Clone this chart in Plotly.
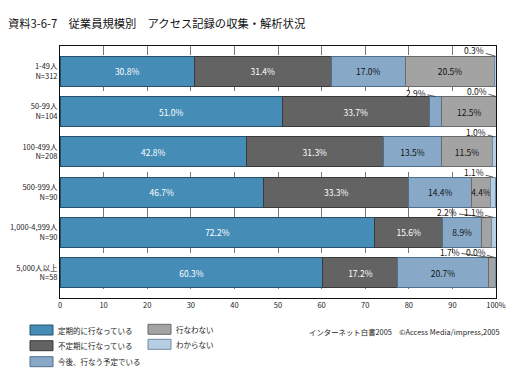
import plotly.graph_objects as go

# ---------------- data ----------------
title_text = "資料3-6-7　従業員規模別　アクセス記録の収集・解析状況"
credit_text = "インターネット白書2005　©Access Media/impress,2005"
categories = ["1-49人<br>N=312", "50-99人<br>N=104", "100-499人<br>N=208",
              "500-999人<br>N=90", "1,000-4,999人<br>N=90", "5,000人以上<br>N=58"]
series_names = ["定期的に行なっている", "不定期に行なっている", "今後、行なう予定でいる",
                "行なわない", "わからない"]
regular = [30.8, 51.0, 42.8, 46.7, 72.2, 60.3]
irregular = [31.4, 33.7, 31.3, 33.3, 15.6, 17.2]
planned = [17.0, 2.9, 13.5, 14.4, 8.9, 20.7]
not_doing = [20.5, 12.5, 11.5, 4.4, 2.2, 1.7]
unknown = [0.3, 0.0, 1.0, 1.1, 1.1, 0.0]
x_tick_values = [0, 10, 20, 30, 40, 50, 60, 70, 80, 90, 100]
x_tick_labels = ["0", "10", "20", "30", "40", "50", "60", "70", "80", "90", "100%"]

series = [regular, irregular, planned, not_doing, unknown]

# ---------------- style ----------------
FONT = "Noto Sans CJK JP"
fills = ["#458cb7", "#636363", "#87a9c7", "#a3a3a3", "#b7cde2"]
edges = ["#25506b", "#3a3a3a", "#4f6f8c", "#6a6a6a", "#6f8aa3"]
text_cols = ["white", "white", "#111111", "#111111", "#111111"]
inside_min = 4.0
bar_w = 0.744
OFF = 8  # page body margin of the browser
W, H = 518 - OFF, 389 - OFF
ML, MR, MT, MB = 60 - OFF, 22, 46 - OFF, 91
PW, PH = W - ML - MR, H - MT - MB
pad = (PH / (30 / bar_w) - 6) / 2  # equal gaps at edges

def xp(px):
    return (px - OFF - ML) / PW

def yp(py):
    return (H - MB - (py - OFF)) / PH

ypos = list(range(len(categories)))

fig = go.Figure()
for k, (name, vals) in enumerate(zip(series_names, series)):
    fig.add_trace(go.Bar(
        name=name, orientation="h", x=vals, y=ypos, width=bar_w,
        marker=dict(color=fills[k], line=dict(color=edges[k], width=1)),
        text=[f"{v:.1f}%" if v >= inside_min else "" for v in vals],
        textposition="inside", insidetextanchor="middle", textangle=0,
        constraintext="none",
        textfont=dict(family=FONT, size=8.5, color=text_cols[k]),
        hoverinfo="skip", showlegend=False,
    ))

# leader-line labels for small segments (pixel offsets of the label)
offsets = {(0, 4): (-21, -6), (1, 2): (-20, -4), (1, 4): (-19, -6),
           (2, 4): (-18, -5), (3, 4): (-19, -5), (4, 3): (-39, -5),
           (4, 4): (-20, -5), (5, 3): (-42, -6), (5, 4): (-20, -6)}
for i in ypos:
    cum = 0.0
    for k, vals in enumerate(series):
        v = vals[i]
        if v < inside_min and (i, k) in offsets:
            ax, ay = offsets[(i, k)]
            fig.add_annotation(
                x=min(cum + v / 2, 100), y=i - bar_w / 2, xref="x", yref="y",
                text=f"{v:.1f}%", showarrow=True, arrowhead=0, arrowwidth=0.8,
                arrowcolor="#333333", ax=ax, ay=ay, standoff=0,
                font=dict(family=FONT, size=8.5, color="#111111"))
        cum += v

# custom legend
legend_pos = [(30, 330.0), (30, 345.7), (30, 361.7), (148, 329.3), (148, 344.3)]
for k, (name, (lx, ly)) in enumerate(zip(series_names, legend_pos)):
    fig.add_shape(type="rect", xref="paper", yref="paper",
                  x0=xp(lx), x1=xp(lx + 23), y0=yp(ly - 5), y1=yp(ly + 5),
                  fillcolor=fills[k], line=dict(color=edges[k], width=1))
    fig.add_annotation(xref="paper", yref="paper", x=xp(lx + 26), y=yp(ly),
                       xanchor="left", yanchor="middle", text=name, showarrow=False,
                       font=dict(family=FONT, size=7.5, color="#222222"))

fig.add_annotation(xref="paper", yref="paper", x=xp(307), y=yp(331),
                   xanchor="left", yanchor="middle", text=credit_text, showarrow=False,
                   font=dict(family=FONT, size=7.4, color="#222222"))
fig.add_annotation(xref="paper", yref="paper", x=xp(6), y=yp(23),
                   xanchor="left", yanchor="middle", text=title_text, showarrow=False,
                   font=dict(family=FONT, size=11.3, color="#111111"))

fig.update_layout(
    width=W, height=H, autosize=False, barmode="stack",
    margin=dict(l=ML, r=MR, t=MT, b=MB, pad=0),
    paper_bgcolor="white", plot_bgcolor="white",
    font=dict(family=FONT, size=8, color="#222222"),
    uniformtext=dict(mode=False),
    xaxis=dict(range=[0, 100], tickvals=x_tick_values, ticktext=x_tick_labels,
               showgrid=True, gridcolor="#777777", griddash="dash", gridwidth=0.8,
               showline=True, linecolor="#111111", linewidth=1, mirror=True,
               ticks="", zeroline=False, fixedrange=True, automargin=False,
               tickfont=dict(family=FONT, size=7.5, color="#222222")),
    yaxis=dict(range=[5 + pad + 0.5, -0.5 - pad], tickvals=ypos, ticktext=categories,
               showgrid=False, showline=True, linecolor="#111111", linewidth=1,
               mirror=True, ticks="", zeroline=False, fixedrange=True, automargin=False,
               tickfont=dict(family=FONT, size=7.5, color="#222222")),
)

fig.write_html("out.html")
